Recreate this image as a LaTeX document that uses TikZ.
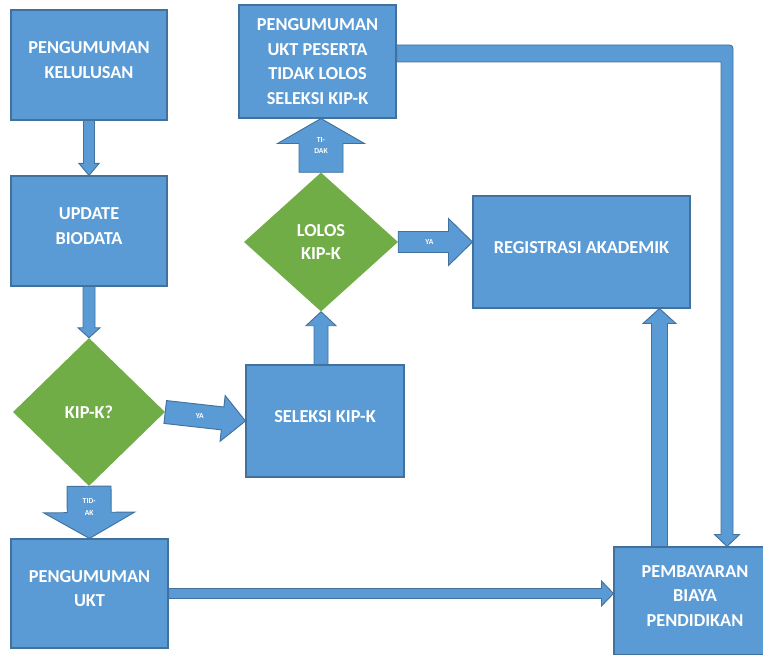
\documentclass[tikz,border=0pt]{standalone}
\usepackage{fontspec}
\setmainfont{Carlito}
\usetikzlibrary{calc,shapes.geometric}
\definecolor{boxblue}{HTML}{5B9BD5}
\definecolor{boxline}{HTML}{41719C}
\definecolor{leafgreen}{HTML}{70AD47}
% block arrow: from, to, half shaft, half head, head length
\newcommand{\blockarrow}[6][]{%
  \draw[flow,#1] let \p1=(#2), \p2=(#3), \n1={atan2(\y2-\y1,\x2-\x1)} in
    ($(\p1)+({\n1+90}:#4)$) -- ($(\p2)+({\n1+180}:#6)+({\n1+90}:#4)$)
    -- ($(\p2)+({\n1+180}:#6)+({\n1+90}:#5)$) -- (\p2)
    -- ($(\p2)+({\n1+180}:#6)+({\n1-90}:#5)$) -- ($(\p2)+({\n1+180}:#6)+({\n1-90}:#4)$)
    -- ($(\p1)+({\n1-90}:#4)$) -- cycle;}
\tikzset{
  box/.style={rectangle, draw=boxline, line width=0.9pt, fill=boxblue, text=white, align=center, inner sep=0pt, font=\bfseries\fontsize{15.6pt}{20.9pt}\selectfont},
  lifted/.style={execute at end node={\rule[-8.5pt]{0pt}{8.5pt}}},
  choice/.style={diamond, aspect=1, fill=leafgreen, text=white, align=center, inner sep=0pt, font=\bfseries\fontsize{15.6pt}{19.2pt}\selectfont},
  flow/.style={draw=boxline, line width=0.8pt, fill=boxblue},
  flowtext/.style={text=white, align=center, inner sep=0pt, font=\bfseries\fontsize{6.5pt}{10pt}\selectfont}
}

\begin{document}
\begin{tikzpicture}[x=0.03cm, y=-0.03cm]
			%%%%% START %%%%%
			\clip (0,0) rectangle (763,655);
			
			\node[box, lifted, minimum width=4.68cm, minimum height=3.3cm] (kel) at (89,65) {PENGUMUMAN\\KELULUSAN};
			\node[box, lifted, minimum width=4.68cm, minimum height=3.3cm] (bio) at (89,231) {UPDATE\\BIODATA};
			\node[choice, minimum width=4.56cm, minimum height=4.44cm] (kip) at (89,412) {KIP-K?};
			\node[box, lifted, minimum width=4.74cm, minimum height=3.36cm] (sel) at (325,421) {SELEKSI KIP-K};
			\node[box, lifted, minimum width=4.71cm, minimum height=3.27cm] (ukt) at (89.5,593.5) {PENGUMUMAN\\UKT};
			\node[box, lifted, minimum width=4.86cm, minimum height=3.24cm] (pem) at (695,601) {PEMBAYARAN\\BIAYA\\PENDIDIKAN};
			\node[choice, minimum width=4.62cm, minimum height=4.17cm] (lol) at (321,242) {LOLOS\\KIP-K};
			\node[box, minimum width=4.71cm, minimum height=3.39cm] (tdk) at (317.5,61.5) {PENGUMUMAN\\UKT PESERTA\\TIDAK LOLOS\\SELEKSI KIP-K};
			\node[box, lifted, minimum width=6.51cm, minimum height=3.36cm] (reg) at (581.5,252) {REGISTRASI AKADEMIK};
			
			\coordinate (payup) at ($(pem.north west)+(46,0)$);
			\coordinate (turn) at (727,53.5);
			
			\blockarrow{kel.south}{bio.north}{0.165cm}{0.3cm}{0.36cm}
			\blockarrow{bio.south}{kip.north}{0.18cm}{0.33cm}{0.3cm}
			\blockarrow{kip.east}{sel.west}{0.345cm}{0.69cm}{0.69cm}
			\blockarrow{kip.south}{ukt.north}{0.66cm}{1.365cm}{0.78cm}
			\blockarrow{ukt.east}{ukt.east -| pem.west}{0.15cm}{0.375cm}{0.36cm}
			\blockarrow{lol.south |- sel.north}{lol.south}{0.21cm}{0.45cm}{0.42cm}
			\blockarrow{lol.north}{lol.north |- tdk.south}{0.66cm}{1.305cm}{0.75cm}
			\blockarrow{lol.east}{lol.east -| reg.west}{0.315cm}{0.705cm}{0.72cm}
			\blockarrow{payup}{payup |- reg.south}{0.24cm}{0.495cm}{0.45cm}
			
			\draw[flow] ($(tdk.east |- turn)+(0,-8.5)$) [rounded corners=3pt] -- ($(turn)+(6,-8.5)$)
				[sharp corners] -- ($(turn |- pem.north)+(6,-12)$) -- ($(turn |- pem.north)+(12.5,-12)$)
				-- (turn |- pem.north) -- ($(turn |- pem.north)+(-12.5,-12)$) -- ($(turn |- pem.north)+(-6,-12)$)
				-- ($(turn)+(-6,8.5)$) -- ($(tdk.east |- turn)+(0,8.5)$) -- cycle;
			
			\path (kip.east) -- (sel.west) node[flowtext, pos=0.43] {YA};
			\path (kip.south) -- (ukt.north) node[flowtext, pos=0.4] {TID-\\AK};
			\path (lol.north) -- (lol.north |- tdk.south) node[flowtext, midway] {TI-\\DAK};
			\path (lol.east) -- (lol.east -| reg.west) node[flowtext, pos=0.42] {YA};
			
			%%%%% END %%%%%
\end{tikzpicture}
\end{document}
